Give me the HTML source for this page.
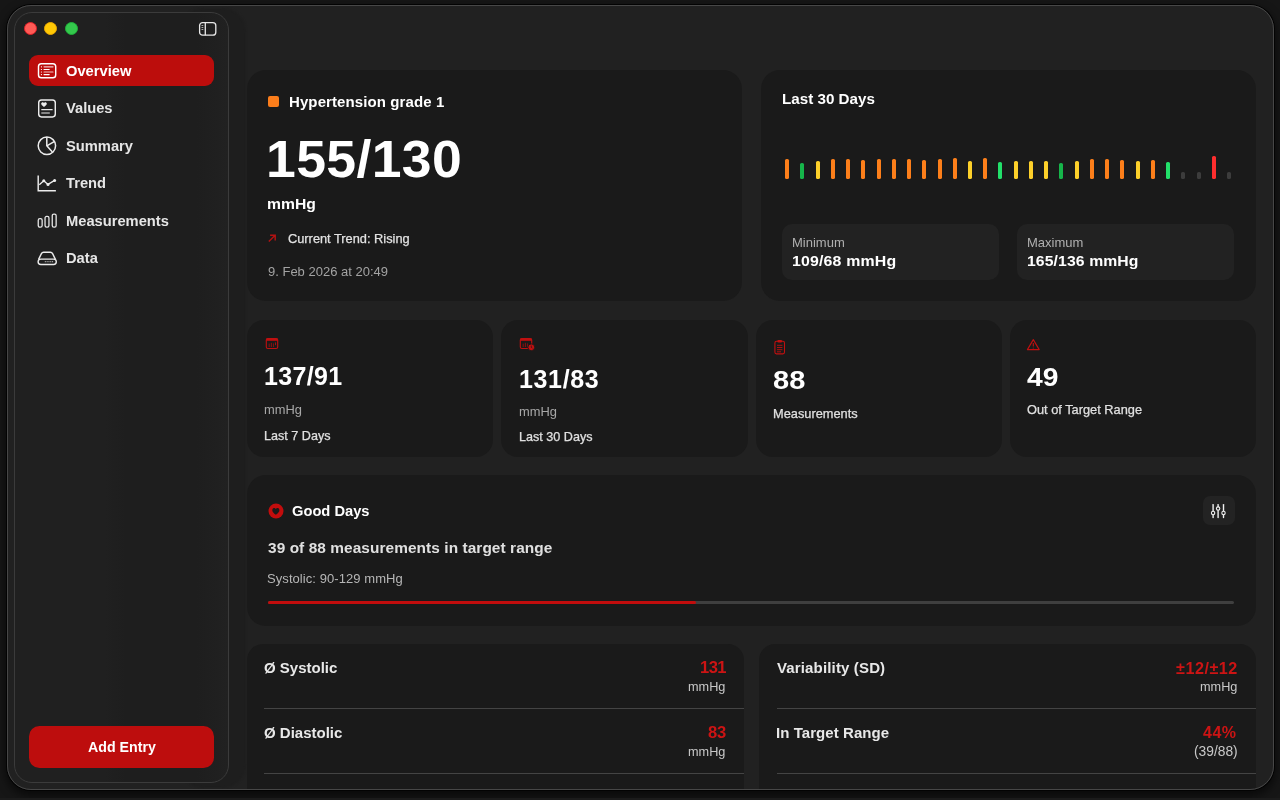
<!DOCTYPE html>
<html><head><meta charset="utf-8">
<style>
*{box-sizing:border-box;margin:0;padding:0}
html,body{width:1280px;height:800px;overflow:hidden;background:#161616;font-family:"Liberation Sans",sans-serif}
.t{position:absolute;white-space:nowrap;line-height:1;-webkit-font-smoothing:antialiased;will-change:transform}
.abs{position:absolute}
.win{position:absolute;left:7px;top:5px;width:1267px;height:785px;border-radius:24px;background:#212121;box-shadow:0 0 0 1px #030303,0 4px 9px 2px rgba(0,0,0,.55);overflow:hidden}
.inner{position:absolute;left:-7px;top:-5px;width:1280px;height:800px}
.wb{position:absolute;left:7px;top:5px;width:1267px;height:785px;border-radius:24px;border:1px solid #474747}
.side{position:absolute;left:14px;top:12px;width:215px;height:771px;border-radius:18px;background:linear-gradient(90deg,#202020 0%,#202020 42%,#1e1e1e 52%,#1e1e1e 85%,#212121 100%);border:1px solid #3b3b3b}
.card{position:absolute;background:#1a1a1a;border-radius:19px}
.bar{position:absolute;width:4px;border-radius:1.6px}
.div{position:absolute;height:1px;background:#444}
.tl{position:absolute;width:13px;height:13px;border-radius:50%;top:22px}
</style></head><body>
<div class="win"><div class="inner">
<!-- subtle shade right of sidebar -->
<div class="abs" style="left:180px;top:8px;width:66px;height:780px;border-radius:24px;background:#1e1e1e;filter:blur(0.8px)"></div>
<div class="side"></div>
<!-- traffic lights -->
<div class="tl" style="left:23.8px;background:#ff5a55;border:1px solid #e0212b"></div>
<div class="tl" style="left:44.3px;background:#ffc805;border:1px solid #eaa900"></div>
<div class="tl" style="left:64.8px;background:#34c84c;border:1px solid #1fb13a"></div>
<!-- sidebar toggle icon -->
<svg class="abs" style="left:198px;top:21px" width="20" height="16" viewBox="0 0 20 16">
 <rect x="1.6" y="1.6" width="16.2" height="12.6" rx="3" fill="none" stroke="#e8e8e8" stroke-width="1.3"/>
 <line x1="7.3" y1="1.6" x2="7.3" y2="14.2" stroke="#e8e8e8" stroke-width="1.3"/>
 <line x1="3.5" y1="4.5" x2="5.3" y2="4.5" stroke="#bbb" stroke-width="0.9"/>
 <line x1="3.5" y1="6.5" x2="5.3" y2="6.5" stroke="#bbb" stroke-width="0.9"/>
 <line x1="3.5" y1="8.5" x2="5.3" y2="8.5" stroke="#bbb" stroke-width="0.9"/>
</svg>
<!-- nav pill -->
<div class="abs" style="left:28.7px;top:55.2px;width:185.3px;height:30.6px;border-radius:9px;background:#bc0d0c"></div>
<!-- nav icons -->
<svg class="abs" style="left:36px;top:61px" width="23" height="20" viewBox="0 0 23 20">
 <rect x="2.5" y="2.7" width="17.2" height="14" rx="2.8" fill="none" stroke="#fff" stroke-width="1.45"/>
 <g stroke="#fff" stroke-width="1.15" stroke-linecap="round">
 <line x1="5.4" y1="5.8" x2="5.5" y2="5.8"/><line x1="8" y1="5.8" x2="17" y2="5.8" stroke="#f0c8c8"/>
 <line x1="5.4" y1="8.5" x2="5.5" y2="8.5"/><line x1="8" y1="8.5" x2="13.2" y2="8.5"/>
 <line x1="5.4" y1="11" x2="5.5" y2="11"/><line x1="8" y1="11" x2="17" y2="11" stroke="#f0c8c8"/>
 <line x1="5.4" y1="13.6" x2="5.5" y2="13.6"/><line x1="8" y1="13.6" x2="13.2" y2="13.6"/>
 </g>
</svg>
<svg class="abs" style="left:36px;top:97px" width="23" height="22" viewBox="0 0 23 22">
 <rect x="2.7" y="2.9" width="16.6" height="17" rx="2.8" fill="none" stroke="#ececec" stroke-width="1.45"/>
 <path transform="translate(5.2 5.3) scale(5.6 5)" d="M0.5,0.92 C0.2,0.72 0,0.52 0,0.3 C0,0.1 0.14,0 0.28,0 C0.38,0 0.46,0.06 0.5,0.15 C0.54,0.06 0.62,0 0.72,0 C0.86,0 1,0.1 1,0.3 C1,0.52 0.8,0.72 0.5,0.92Z" fill="#ececec"/>
 <line x1="5.3" y1="12.6" x2="16.6" y2="12.6" stroke="#e6e6e6" stroke-width="1.1"/>
 <line x1="5.3" y1="15.9" x2="13.8" y2="15.9" stroke="#a8a8a8" stroke-width="1.5"/>
</svg>
<svg class="abs" style="left:36px;top:135px" width="22" height="22" viewBox="0 0 22 22">
 <circle cx="10.9" cy="10.8" r="8.7" fill="none" stroke="#ececec" stroke-width="1.5"/>
 <path d="M10.8 2.1v8.7l5.6 6.2" fill="none" stroke="#ececec" stroke-width="1.5" stroke-linejoin="round"/>
 <path d="M10.8 10.8l7.4-4.2" fill="none" stroke="#ececec" stroke-width="1.5"/>
</svg>
<svg class="abs" style="left:36px;top:174px" width="22" height="20" viewBox="0 0 22 20">
 <path d="M2.2 1.4V16.8H19.9" fill="none" stroke="#ececec" stroke-width="1.45"/>
 <path d="M3.3 10.7L7.8 6.8L12 10.4L18.6 6.4" fill="none" stroke="#ececec" stroke-width="1.3" stroke-linejoin="round"/>
 <g fill="#ececec"><circle cx="7.8" cy="6.8" r="1.5"/><circle cx="12" cy="10.4" r="1.5"/><circle cx="18.6" cy="6.4" r="1.5"/></g>
</svg>
<svg class="abs" style="left:36px;top:212px" width="22" height="20" viewBox="0 0 22 20">
 <g fill="none" stroke="#e6e6e6" stroke-width="1.3">
 <rect x="2.25" y="6.65" width="3.9" height="8.5" rx="1.6"/>
 <rect x="9.05" y="4.45" width="3.9" height="10.7" rx="1.6"/>
 <rect x="16.25" y="2.05" width="3.9" height="13.1" rx="1.6"/>
 </g>
</svg>
<svg class="abs" style="left:36px;top:249px" width="22" height="20" viewBox="0 0 22 20">
 <path d="M2.6 10.4L5.4 4.6Q6.1 3.3 7.6 3.3H14.4Q15.9 3.3 16.6 4.6L19.4 10.4" fill="none" stroke="#ececec" stroke-width="1.4"/>
 <rect x="2.1" y="10.1" width="18.2" height="5.4" rx="2.7" fill="none" stroke="#ececec" stroke-width="1.4"/>
 <g fill="#c4c4c4"><rect x="8.8" y="12.2" width="1.1" height="1"/><rect x="10.6" y="12.2" width="1.1" height="1"/><rect x="12.4" y="12.2" width="1.1" height="1"/><rect x="14.2" y="12.2" width="1.1" height="1"/><rect x="16" y="12.2" width="1.1" height="1"/></g>
</svg>
<!-- add entry -->
<div class="abs" style="left:28.8px;top:726px;width:185px;height:42px;border-radius:10.5px;background:#bd0d0d"></div>

<!-- cards -->
<div class="card" style="left:246.5px;top:70px;width:495.5px;height:231.4px"></div>
<div class="card" style="left:761px;top:70px;width:495px;height:231.4px"></div>
<div class="card" style="left:246.5px;top:320px;width:246.75px;height:136.5px;border-radius:17px"></div>
<div class="card" style="left:501.25px;top:320px;width:246.25px;height:136.5px;border-radius:17px"></div>
<div class="card" style="left:755.5px;top:320px;width:246.25px;height:136.5px;border-radius:17px"></div>
<div class="card" style="left:1009.75px;top:320px;width:246.25px;height:136.5px;border-radius:17px"></div>
<div class="card" style="left:246.5px;top:475px;width:1009.5px;height:150.5px"></div>
<div class="card" style="left:246.5px;top:644px;width:497.5px;height:160px;border-radius:16px"></div>
<div class="card" style="left:759px;top:644px;width:497px;height:160px;border-radius:16px"></div>

<!-- orange square -->
<div class="abs" style="left:267.8px;top:96.2px;width:11px;height:11px;border-radius:2px;background:#fb7d1b"></div>
<!-- trend arrow -->
<svg class="abs" style="left:266px;top:233px" width="12" height="12" viewBox="0 0 12 12">
 <path d="M2.8 8.5L9.2 2.3M4.1 2.3H9.2V7.5" fill="none" stroke="#b31212" stroke-width="1.45"/>
</svg>

<!-- min/max boxes -->
<div class="abs" style="left:782.2px;top:224px;width:216.6px;height:56px;border-radius:10px;background:#222"></div>
<div class="abs" style="left:1017.2px;top:224px;width:217.3px;height:56px;border-radius:10px;background:#222"></div>

<!-- bars -->
<div class="bar" style="left:785.10px;top:158.80px;height:20.4px;background:#fd7f1a"></div>
<div class="bar" style="left:800.34px;top:162.90px;height:16.3px;background:#16b54a"></div>
<div class="bar" style="left:815.58px;top:160.60px;height:18.6px;background:#fdd02a"></div>
<div class="bar" style="left:830.82px;top:158.80px;height:20.4px;background:#fd7f1a"></div>
<div class="bar" style="left:846.06px;top:158.80px;height:20.4px;background:#fd7f1a"></div>
<div class="bar" style="left:861.30px;top:159.70px;height:19.5px;background:#fd7f1a"></div>
<div class="bar" style="left:876.54px;top:158.80px;height:20.4px;background:#fd7f1a"></div>
<div class="bar" style="left:891.78px;top:158.80px;height:20.4px;background:#fd7f1a"></div>
<div class="bar" style="left:907.02px;top:158.80px;height:20.4px;background:#fd7f1a"></div>
<div class="bar" style="left:922.26px;top:159.70px;height:19.5px;background:#fd7f1a"></div>
<div class="bar" style="left:937.50px;top:158.80px;height:20.4px;background:#fd7f1a"></div>
<div class="bar" style="left:952.74px;top:158.00px;height:21.2px;background:#fd7f1a"></div>
<div class="bar" style="left:967.98px;top:160.60px;height:18.6px;background:#fdd02a"></div>
<div class="bar" style="left:983.22px;top:158.00px;height:21.2px;background:#fd7f1a"></div>
<div class="bar" style="left:998.46px;top:161.90px;height:17.3px;background:#22e06a"></div>
<div class="bar" style="left:1013.70px;top:161.10px;height:18.1px;background:#fdd02a"></div>
<div class="bar" style="left:1028.94px;top:161.10px;height:18.1px;background:#fdd02a"></div>
<div class="bar" style="left:1044.18px;top:161.10px;height:18.1px;background:#fdd02a"></div>
<div class="bar" style="left:1059.42px;top:162.80px;height:16.4px;background:#16b54a"></div>
<div class="bar" style="left:1074.66px;top:161.10px;height:18.1px;background:#fdd02a"></div>
<div class="bar" style="left:1089.90px;top:158.50px;height:20.7px;background:#fd7f1a"></div>
<div class="bar" style="left:1105.14px;top:158.50px;height:20.7px;background:#fd7f1a"></div>
<div class="bar" style="left:1120.38px;top:159.50px;height:19.7px;background:#fd7f1a"></div>
<div class="bar" style="left:1135.62px;top:161.10px;height:18.1px;background:#fdd02a"></div>
<div class="bar" style="left:1150.86px;top:159.50px;height:19.7px;background:#fd7f1a"></div>
<div class="bar" style="left:1166.10px;top:161.70px;height:17.5px;background:#22e06a"></div>
<div class="bar" style="left:1181.34px;top:172.20px;height:7px;background:#3c3c3c"></div>
<div class="bar" style="left:1196.58px;top:172.20px;height:7px;background:#3c3c3c"></div>
<div class="bar" style="left:1211.82px;top:156.10px;height:23.1px;background:#fe2e2e"></div>
<div class="bar" style="left:1227.06px;top:172.20px;height:7px;background:#3c3c3c"></div>


<!-- row2 icons -->
<svg class="abs" style="left:265px;top:337px" width="14" height="13" viewBox="0 0 14 13">
 <rect x="1.3" y="1.5" width="11.4" height="10" rx="1.6" fill="none" stroke="#c01010" stroke-width="1.1"/>
 <rect x="1.3" y="1.5" width="11.4" height="2.3" fill="#c01010"/>
 <g fill="#7d1010"><rect x="3.6" y="6.6" width="1.2" height="3.4"/><rect x="5.8" y="5.8" width="1.2" height="4.2"/><rect x="8" y="6.4" width="1" height="3.6"/><rect x="10" y="5.4" width="1" height="2.8" fill="#a01010"/></g>
</svg>
<svg class="abs" style="left:519px;top:337px" width="17" height="15" viewBox="0 0 17 15">
 <rect x="1.3" y="1.5" width="11.4" height="10" rx="1.6" fill="none" stroke="#c01010" stroke-width="1.1"/>
 <rect x="1.3" y="1.5" width="11.4" height="2.3" fill="#c01010"/>
 <g fill="#7d1010"><rect x="3.6" y="6.6" width="1.2" height="3.4"/><rect x="5.8" y="5.8" width="1.2" height="4.2"/><rect x="8" y="6.4" width="1" height="3.6"/></g>
 <circle cx="12.3" cy="10.3" r="3.4" fill="#c01010" stroke="#1a1a1a" stroke-width="0.9"/>
 <path d="M12.3 8.6v1.8l1 0.6" fill="none" stroke="#1a1a1a" stroke-width="0.7"/>
</svg>
<svg class="abs" style="left:773px;top:339px" width="13" height="16" viewBox="0 0 13 16">
 <rect x="1.9" y="2.3" width="9.6" height="12.6" rx="1.6" fill="none" stroke="#c01010" stroke-width="1.1"/>
 <rect x="4.4" y="1" width="4.6" height="2.4" rx="0.9" fill="#c01010"/>
 <g stroke="#c01010" stroke-width="0.9"><line x1="4" y1="6.3" x2="9.4" y2="6.3"/><line x1="4" y1="8.5" x2="9.4" y2="8.5"/><line x1="4" y1="10.7" x2="9.4" y2="10.7"/><line x1="4" y1="12.8" x2="8" y2="12.8"/></g>
</svg>
<svg class="abs" style="left:1026px;top:338px" width="15" height="13" viewBox="0 0 15 13">
 <path d="M7.3 1.6L13.2 11.6H1.4Z" fill="none" stroke="#c01010" stroke-width="1.1" stroke-linejoin="round"/>
 <line x1="7.3" y1="5" x2="7.3" y2="8.4" stroke="#c01010" stroke-width="1.1"/>
 <circle cx="7.3" cy="10" r="0.6" fill="#c01010"/>
</svg>

<!-- good days -->
<svg class="abs" style="left:268px;top:503px" width="16" height="16" viewBox="0 0 16 16">
 <circle cx="8" cy="8" r="7.5" fill="#c20d0d"/>
 <path transform="translate(4.3 5.1) scale(7.1 7.3)" d="M0.5,0.92 C0.2,0.72 0,0.52 0,0.3 C0,0.1 0.14,0 0.28,0 C0.38,0 0.46,0.06 0.5,0.15 C0.54,0.06 0.62,0 0.72,0 C0.86,0 1,0.1 1,0.3 C1,0.52 0.8,0.72 0.5,0.92Z" fill="#1a1a1a"/>
</svg>
<div class="abs" style="left:1202.5px;top:496px;width:32px;height:29px;border-radius:7px;background:#232323"></div>
<svg class="abs" style="left:1208px;top:502px" width="20" height="18" viewBox="0 0 20 18">
 <g stroke="#f0f0f0" stroke-width="1.4" stroke-linecap="round">
 <line x1="5.1" y1="2.6" x2="5.1" y2="15.6"/><line x1="10.1" y1="2.6" x2="10.1" y2="15.6"/><line x1="15.5" y1="2.6" x2="15.5" y2="15.6"/>
 </g>
 <g fill="#232323" stroke="#f0f0f0" stroke-width="1.1">
 <circle cx="5.1" cy="11" r="1.7"/><circle cx="10.1" cy="6.6" r="1.7"/><circle cx="15.5" cy="11" r="1.7"/>
 </g>
</svg>
<div class="abs" style="left:268px;top:600.8px;width:966.4px;height:3.4px;border-radius:2px;background:#3f3f3f"></div>
<div class="abs" style="left:268px;top:600.8px;width:428px;height:3.4px;border-radius:2px;background:#c20d0d"></div>

<!-- dividers bottom -->
<div class="div" style="left:264px;top:707.8px;width:480px"></div>
<div class="div" style="left:264px;top:773px;width:480px"></div>
<div class="div" style="left:777px;top:707.8px;width:479px"></div>
<div class="div" style="left:777px;top:773px;width:479px"></div>

<div class="t" style="top:63.56px;font-size:14.7px;font-weight:700;color:#ffffff;left:66.3px;">Overview</div>
<div class="t" style="top:101.06px;font-size:14.7px;font-weight:700;color:#e6e6e6;left:66.3px;">Values</div>
<div class="t" style="top:138.56px;font-size:14.7px;font-weight:700;color:#e6e6e6;left:66.3px;">Summary</div>
<div class="t" style="top:176.06px;font-size:14.7px;font-weight:700;color:#e6e6e6;left:66.3px;">Trend</div>
<div class="t" style="top:213.56px;font-size:14.7px;font-weight:700;color:#e6e6e6;left:66.3px;">Measurements</div>
<div class="t" style="top:251.06px;font-size:14.7px;font-weight:700;color:#e6e6e6;left:66.3px;">Data</div>
<div class="t" style="top:740.38px;font-size:14.2px;font-weight:700;color:#fff;left:121.5px;transform:translateX(-50%);">Add Entry</div>
<div class="t" style="top:94.30px;font-size:15px;font-weight:700;color:#fff;letter-spacing:0.1px;left:289.1px;">Hypertension grade 1</div>
<div class="t" style="top:133.83px;font-size:51px;font-weight:700;color:#fff;letter-spacing:0.35px;transform:scaleX(1.05);transform-origin:left center;left:266.2px;">155/130</div>
<div class="t" style="top:197.15px;font-size:14px;font-weight:700;color:#fff;transform:scaleX(1.12);transform-origin:left center;left:267.0px;">mmHg</div>
<div class="t" style="top:232.86px;font-size:12.8px;font-weight:400;color:#e2e2e2;left:287.7px;-webkit-text-stroke:0.25px currentColor;">Current Trend: Rising</div>
<div class="t" style="top:265.00px;font-size:13px;font-weight:400;color:#a3a3a3;left:268px;">9. Feb 2026 at 20:49</div>
<div class="t" style="top:91.13px;font-size:15.2px;font-weight:700;color:#fff;left:782.3px;">Last 30 Days</div>
<div class="t" style="top:236.30px;font-size:13px;font-weight:400;color:#b0b0b0;left:792.0px;">Minimum</div>
<div class="t" style="top:253.30px;font-size:15px;font-weight:700;color:#fff;letter-spacing:0.15px;transform:scaleX(1.06);transform-origin:left center;left:791.8px;">109/68 mmHg</div>
<div class="t" style="top:236.30px;font-size:13px;font-weight:400;color:#b0b0b0;left:1026.9px;">Maximum</div>
<div class="t" style="top:253.30px;font-size:15px;font-weight:700;color:#fff;letter-spacing:0.1px;transform:scaleX(1.05);transform-origin:left center;left:1026.7px;">165/136 mmHg</div>
<div class="t" style="top:363.54px;font-size:25px;font-weight:700;color:#fff;letter-spacing:0.35px;left:264px;">137/91</div>
<div class="t" style="top:404.00px;font-size:12.4px;font-weight:400;color:#a8a8a8;transform:scaleX(1.04);transform-origin:left center;left:264.0px;">mmHg</div>
<div class="t" style="top:429.53px;font-size:12.6px;font-weight:400;color:#e0e0e0;left:264.3px;-webkit-text-stroke:0.25px currentColor;">Last 7 Days</div>
<div class="t" style="top:366.84px;font-size:25px;font-weight:700;color:#fff;letter-spacing:0.65px;left:518.7px;">131/83</div>
<div class="t" style="top:405.70px;font-size:12.4px;font-weight:400;color:#a8a8a8;transform:scaleX(1.04);transform-origin:left center;left:518.7px;">mmHg</div>
<div class="t" style="top:431.13px;font-size:12.6px;font-weight:400;color:#e0e0e0;left:519px;-webkit-text-stroke:0.25px currentColor;">Last 30 Days</div>
<div class="t" style="top:367.84px;font-size:25px;font-weight:700;color:#fff;transform:scaleX(1.16);transform-origin:left center;left:773.0px;">88</div>
<div class="t" style="top:407.76px;font-size:12.8px;font-weight:400;color:#e0e0e0;left:773.0px;-webkit-text-stroke:0.25px currentColor;">Measurements</div>
<div class="t" style="top:364.64px;font-size:25px;font-weight:700;color:#fff;transform:scaleX(1.13);transform-origin:left center;left:1026.6px;">49</div>
<div class="t" style="top:404.06px;font-size:12.8px;font-weight:400;color:#e0e0e0;left:1027px;-webkit-text-stroke:0.25px currentColor;">Out of Target Range</div>
<div class="t" style="top:503.86px;font-size:14.7px;font-weight:700;color:#fff;left:292.3px;">Good Days</div>
<div class="t" style="top:540.26px;font-size:15.4px;font-weight:700;color:#e0e0e0;letter-spacing:0.08px;left:268px;">39 of 88 measurements in target range</div>
<div class="t" style="top:572.00px;font-size:13px;font-weight:400;color:#b6b6b6;letter-spacing:0.07px;left:267.4px;">Systolic: 90-129 mmHg</div>
<div class="t" style="top:660.40px;font-size:15px;font-weight:700;color:#e8e8e8;left:264px;">&Oslash; Systolic</div>
<div class="t" style="top:660.25px;font-size:16.6px;font-weight:700;color:#cc1414;letter-spacing:-0.6px;right:554.2px;">131</div>
<div class="t" style="top:681.25px;font-size:12.7px;font-weight:400;color:#c8c8c8;right:554.2px;">mmHg</div>
<div class="t" style="top:725.10px;font-size:15px;font-weight:700;color:#e8e8e8;left:264px;">&Oslash; Diastolic</div>
<div class="t" style="top:724.85px;font-size:16.6px;font-weight:700;color:#cc1414;letter-spacing:-0.3px;right:554.2px;">83</div>
<div class="t" style="top:746.25px;font-size:12.7px;font-weight:400;color:#c8c8c8;right:554.2px;">mmHg</div>
<div class="t" style="top:660.40px;font-size:15px;font-weight:700;color:#e8e8e8;letter-spacing:0.15px;left:776.8px;">Variability (SD)</div>
<div class="t" style="top:659.89px;font-size:16.2px;font-weight:700;color:#cc1414;letter-spacing:0.5px;right:42.5px;">&plusmn;12/&plusmn;12</div>
<div class="t" style="top:681.45px;font-size:12.7px;font-weight:400;color:#c8c8c8;right:42.799999999999955px;">mmHg</div>
<div class="t" style="top:725.00px;font-size:15px;font-weight:700;color:#e8e8e8;letter-spacing:0.06px;left:776.0px;">In Target Range</div>
<div class="t" style="top:724.96px;font-size:16px;font-weight:700;color:#cc1414;letter-spacing:0.5px;right:43.5px;">44%</div>
<div class="t" style="top:745.42px;font-size:13.8px;font-weight:400;color:#c8c8c8;right:42.40000000000009px;">(39/88)</div>


</div></div>
<div class="wb"></div>
<div class="abs" style="left:0;top:797.6px;width:1280px;height:3px;background:#1b1b1b"></div>
</body></html>
